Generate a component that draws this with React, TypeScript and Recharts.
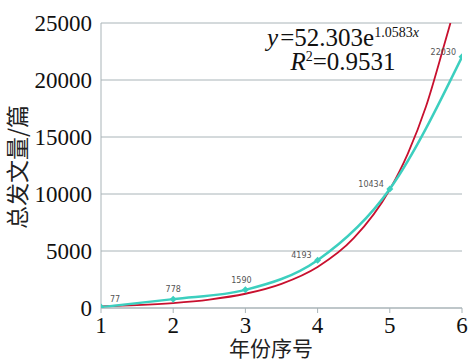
import { ComposedChart, Line, XAxis, YAxis, CartesianGrid, LabelList } from 'recharts';

const years = [1, 2, 3, 4, 5, 6];
const papers = [77, 778, 1590, 4193, 10434, 22030];

// red exponential trend curve
const trendX = [1, 1.5, 2, 2.5, 3, 3.5, 4, 4.5, 5, 5.25, 5.5, 5.75, 5.84];
const trendY = [150, 255, 435, 740, 1250, 2120, 3600, 6120, 10400, 13550, 17650, 23000, 25000];

const yTicks = [0, 5000, 10000, 15000, 20000, 25000];

const CYAN = '#3ccfbf';
const RED = '#c8102e';
const GRID = '#a9b4b8';
const SERIF = '"Liberation Serif", "DejaVu Serif", serif';
const CJK = '"Noto Sans CJK SC", sans-serif';

const seriesData = years.map((x, i) => ({ x, v: papers[i] }));
const trendData = trendX.map((x, i) => ({ x, t: trendY[i] }));

const Diamond = (props: any) => {
  const { cx, cy } = props;
  if (cx == null || cy == null) return null;
  return <path d={`M${cx},${cy - 3.5}L${cx + 3.5},${cy}L${cx},${cy + 3.5}L${cx - 3.5},${cy}Z`} fill={CYAN} />;
};

const PointLabel = (props: any) => {
  const { x, y, value, index } = props;
  let dx = -6, dy = -2, anchor = 'end';
  if (index === 0) { dx = 9; dy = -5; anchor = 'start'; }
  if (index === 1) { dx = 0; dy = -7; anchor = 'middle'; }
  if (index === 2) { dx = -4; dy = -7; anchor = 'middle'; }
  return (
    <text x={x + dx} y={y + dy} textAnchor={anchor} fontSize={8} fill="#555"
      style={{ fontFamily: '"DejaVu Sans", sans-serif' }}>
      {value}
    </text>
  );
};

const XTick = (props: any) => {
  const { x, y, payload } = props;
  return (
    <text x={x} y={y + 15} textAnchor="middle" fill="#111"
      style={{ fontFamily: SERIF, fontSize: 23 }}>
      {payload.value}
    </text>
  );
};

const YTick = (props: any) => {
  const { x, y, payload } = props;
  return (
    <text x={x} y={y + 8} textAnchor="end" fill="#111"
      style={{ fontFamily: SERIF, fontSize: 23 }}>
      {payload.value}
    </text>
  );
};

export default function App() {
  return (
    <div style={{ position: 'absolute', left: 0, top: 0, width: 474, height: 364, background: '#fff' }}>
      <ComposedChart width={474} height={364} margin={{ top: 23, right: 12, bottom: 0, left: 0 }}>
        <CartesianGrid horizontal vertical={false} stroke={GRID} strokeWidth={1} />
        <XAxis
          type="number"
          dataKey="x"
          domain={[1, 6]}
          ticks={years}
          allowDataOverflow
          height={56}
          axisLine={{ stroke: GRID }}
          tickLine={{ stroke: GRID }}
          tickSize={5}
          tickMargin={5}
          tick={<XTick />}
        />
        <YAxis
          type="number"
          domain={[0, 25000]}
          ticks={yTicks}
          allowDataOverflow
          width={101}
          axisLine={{ stroke: GRID }}
          tickLine={false}
          tickSize={0}
          tickMargin={9}
          tick={<YTick />}
        />
        <Line
          data={trendData}
          dataKey="t"
          type="monotone"
          stroke={RED}
          strokeWidth={1.8}
          dot={false}
          isAnimationActive={false}
        />
        <Line
          data={seriesData}
          dataKey="v"
          type="monotone"
          stroke={CYAN}
          strokeWidth={2.5}
          dot={<Diamond />}
          isAnimationActive={false}
        >
          <LabelList dataKey="v" content={<PointLabel />} />
        </Line>
      </ComposedChart>
      <div style={{
        position: 'absolute', left: 258, top: 26, width: 170, textAlign: 'center',
        fontFamily: SERIF, fontSize: 25, lineHeight: '24px', color: '#111', whiteSpace: 'nowrap',
      }}>
        <div><i style={{ paddingRight: 2 }}>y</i>=52.303e<sup style={{ fontSize: 14, verticalAlign: '9px', lineHeight: 0 }}>1.0583<i>x</i></sup></div>
        <div><i>R</i><sup style={{ fontSize: 14, verticalAlign: '9px', lineHeight: 0 }}>2</sup>=0.9531</div>
      </div>
      <div style={{
        position: 'absolute', left: 229, top: 336, fontFamily: CJK, fontSize: 21, lineHeight: '22px', color: '#222', whiteSpace: 'nowrap',
      }}>
        年份序号
      </div>
      <div style={{
        position: 'absolute', left: 16, top: 167, transform: 'translate(-50%, -50%) rotate(-90deg)',
        fontFamily: CJK, fontSize: 23, lineHeight: '26px', color: '#222', whiteSpace: 'nowrap',
      }}>
        总发文量/篇
      </div>
    </div>
  );
}
